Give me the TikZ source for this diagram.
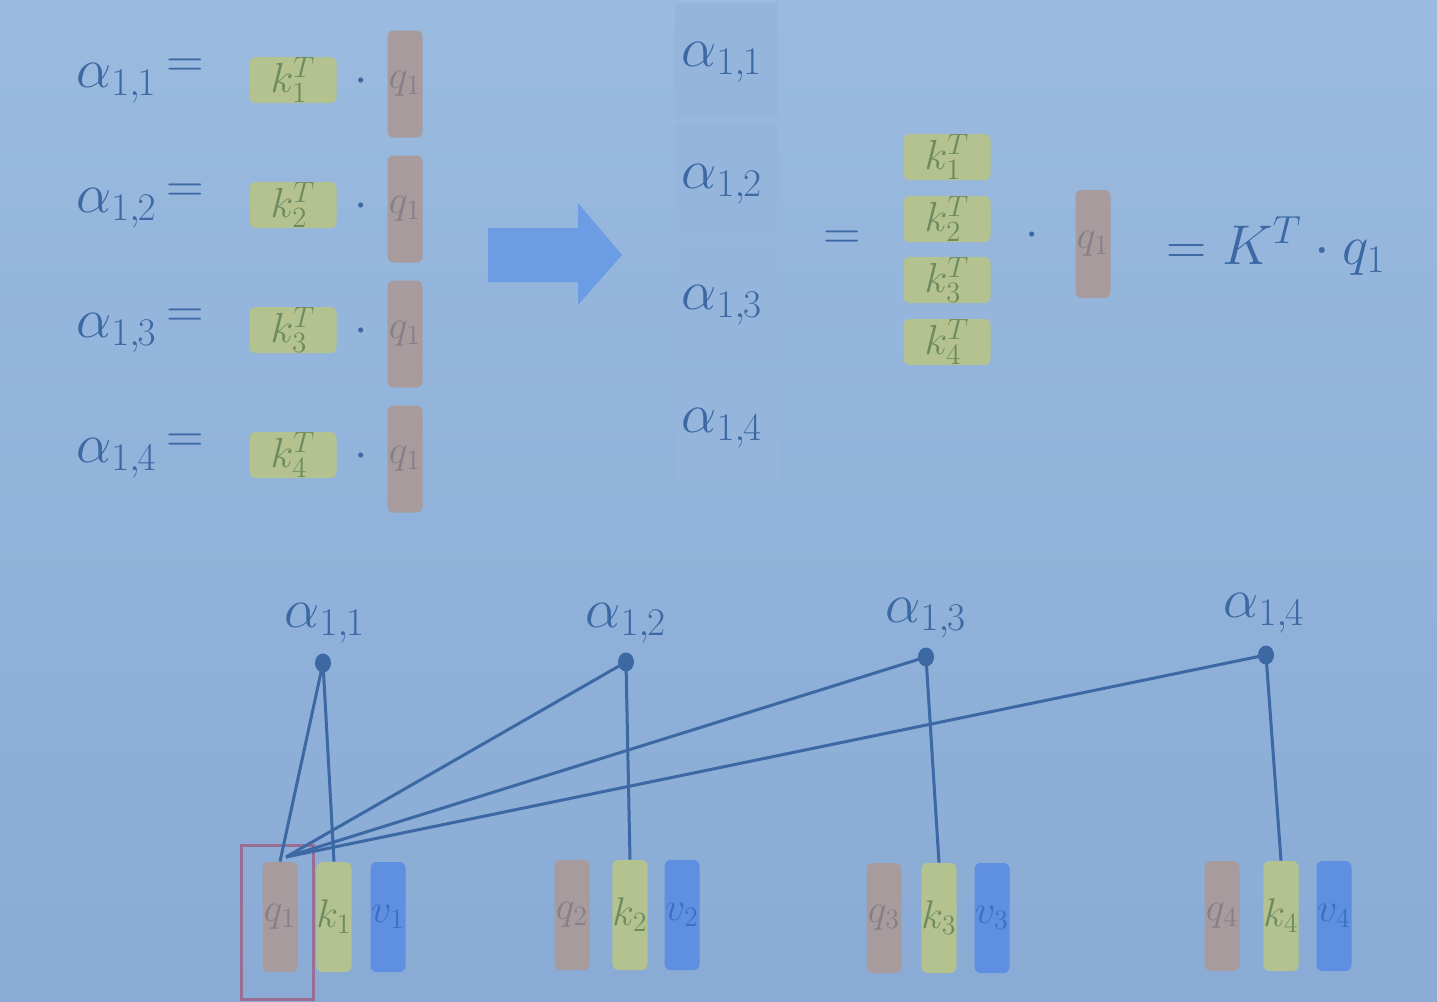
\RequirePackage{fix-cm}
\documentclass[tikz,border=0pt]{standalone}
\usetikzlibrary{shapes.geometric}
\definecolor{bgtop}{HTML}{9ABADF}
\definecolor{bgbot}{HTML}{89ABD5}
\definecolor{ink}{HTML}{3C69A3}
\definecolor{kfill}{HTML}{B3C28F}
\definecolor{qfill}{HTML}{A79B9E}
\definecolor{vfill}{HTML}{5E8FE0}
\definecolor{ktext}{HTML}{6E8B60}
\definecolor{qtext}{HTML}{857F8A}
\definecolor{vtext}{HTML}{3D6FC5}
\definecolor{cellfill}{HTML}{95B5DD}
\definecolor{arrowc}{HTML}{6C9CE3}
\definecolor{redsq}{HTML}{9A6E92}
\newcommand{\al}[1]{\alpha_{1,\mkern-1mu#1}}
\tikzset{
  alab/.style={text=ink, inner sep=0pt, font=\fontsize{28}{34}\selectfont},
  eqsign/.style={text=ink, inner sep=0pt, font=\fontsize{26}{30}\selectfont},
  kbox/.style={fill=kfill, rounded corners=3pt, minimum width=43.5pt, minimum height=23pt, inner sep=0pt, text=ktext, font=\fontsize{21}{24}\selectfont},
  qbox/.style={fill=qfill, rounded corners=3pt, minimum width=17.5pt, minimum height=53.5pt, inner sep=0pt, text=qtext, font=\fontsize{20}{24}\selectfont},
  vecq/.style={fill=qfill, rounded corners=3pt, minimum width=17.5pt, minimum height=55pt, inner sep=0pt, text=qtext, font=\fontsize{20}{24}\selectfont},
  veck/.style={vecq, fill=kfill, text=ktext},
  vecv/.style={vecq, fill=vfill, text=vtext},
  cell/.style={fill=cellfill, inner sep=0pt, minimum width=51.5pt, minimum height=57.5pt},
  dotn/.style={ellipse, fill=ink, inner sep=0pt, minimum width=8pt, minimum height=9.5pt},
  link/.style={draw=ink, line width=1.5pt},
  dotop/.style={text=ink, inner sep=0pt, font=\fontsize{24}{28}\selectfont}
}
\begin{document}
\begin{tikzpicture}[x=0.5pt,y=-0.5pt]
\useasboundingbox (0,0) rectangle (1437,1002);
\shade[top color=bgtop, bottom color=bgbot] (0,0) rectangle (1437,1002);

% left equations
\foreach \i/\y in {1/0,2/125,3/250,4/375}{
  \node[alab, anchor=base west] (la\i) at (76,{87+\y}) {$\al{\i}$};
  \node[eqsign] (le\i) at (185,{68+\y}) {$=$};
  \node[kbox] (lk\i) at (293,{80+\y}) {$k_{\i}^{T}$};
  \node[dotop] (ld\i) at (361,{82+\y}) {$\cdot$};
  \node[qbox] (lq\i) at (405,{84+\y}) {$q_1$};
}

% block arrow
\draw[fill=arrowc, draw=none] (488,228) -- (578,228) -- (578,203) -- (622,255) -- (578,305) -- (578,282) -- (488,282) -- cycle;

% alpha column
\node[cell] (c1) at (726,60) {};
\node[cell] (c2) at (726,180) {};
\node[cell] (c3) at (726,300) {};
\node[cell] (c4) at (726,423) {};
\node[alab] (ca1) at (722,62) {$\al{1}$};
\node[alab] (ca2) at (722,184) {$\al{2}$};
\node[alab] (ca3) at (722,305) {$\al{3}$};
\node[alab] (ca4) at (722,428) {$\al{4}$};

% right side
\node[eqsign] (re) at (842,240) {$=$};
\node[kbox] (rk1) at (947,157) {$k_{1}^{T}$};
\node[kbox] (rk2) at (947,219) {$k_{2}^{T}$};
\node[kbox] (rk3) at (947,280) {$k_{3}^{T}$};
\node[kbox] (rk4) at (947,342) {$k_{4}^{T}$};
\node[dotop] (rd) at (1032,236) {$\cdot$};
\node[qbox, minimum height=54pt] (rq) at (1093,244) {$q_1$};
\node[text=ink, inner sep=0pt, anchor=base west, font=\fontsize{28}{32}\selectfont] (res) at (1166,264) {$= K^{T}\cdot q_1$};

% bottom graph
\node[alab, anchor=base] (ba1) at (325,627) {$\al{1}$};
\node[alab, anchor=base] (ba2) at (626,627) {$\al{2}$};
\node[alab, anchor=base] (ba3) at (926,622) {$\al{3}$};
\node[alab, anchor=base] (ba4) at (1264,617) {$\al{4}$};

\node[dotn] (d1) at (323,663) {};
\node[dotn] (d2) at (626,662) {};
\node[dotn] (d3) at (926,657) {};
\node[dotn] (d4) at (1266,655) {};

\node[vecq] (q1) at (280,917) {$q_1$};
\node[veck] (k1) at (334,917) {$k_1$};
\node[vecv] (v1) at (388,917) {$v_1$};
\node[vecq] (q2) at (572,915) {$q_2$};
\node[veck] (k2) at (630,915) {$k_2$};
\node[vecv] (v2) at (682,915) {$v_2$};
\node[vecq] (q3) at (884,918) {$q_3$};
\node[veck] (k3) at (939,918) {$k_3$};
\node[vecv] (v3) at (992,918) {$v_3$};
\node[vecq] (q4) at (1222,916) {$q_4$};
\node[veck] (k4) at (1281,916) {$k_4$};
\node[vecv] (v4) at (1334,916) {$v_4$};

\node[draw=redsq, line width=1.5pt, minimum width=36pt, minimum height=77pt, inner sep=0pt] (sel) at (277,922) {};

\coordinate (qin) at (286,857);
\draw[link] (d1.center) -- (q1.north);
\draw[link] (d1.center) -- (k1.north);
\draw[link] (d2.center) -- (qin);
\draw[link] (d2.center) -- (k2.north);
\draw[link] (d3.center) -- (qin);
\draw[link] (d3.center) -- (k3.north);
\draw[link] (d4.center) -- (qin);
\draw[link] (d4.center) -- (k4.north);
\end{tikzpicture}
\end{document}
